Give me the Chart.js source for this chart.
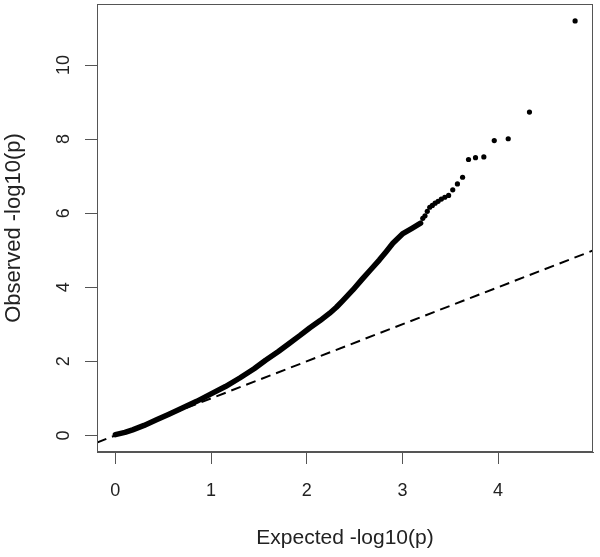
<!DOCTYPE html>
<html lang="en">
<head>
  <meta charset="UTF-8" />
  <title>QQ plot</title>
  <script src="https://cdn.jsdelivr.net/npm/chart.js"></script>
  <style>
    body { margin: 0; background: #fff; }
    #wrap { width: 600px; height: 557px; }
  </style>
</head>
<body>
  <div id="wrap"><canvas id="qq"></canvas></div>

  <script>
    // dense part of the QQ curve (points overlap into a solid band)
    const curveExpected = [0.00, 0.10, 0.18, 0.30, 0.43, 0.56, 0.70, 0.85, 1.00, 1.15, 1.30, 1.45, 1.57, 1.70, 1.82, 1.93, 2.03, 2.14, 2.24, 2.31, 2.37, 2.48, 2.58, 2.67, 2.76, 2.83, 2.90, 3.00, 3.10, 3.19];
    const curveObserved = [0.02, 0.08, 0.15, 0.27, 0.42, 0.57, 0.74, 0.92, 1.12, 1.32, 1.55, 1.80, 2.03, 2.26, 2.49, 2.70, 2.90, 3.10, 3.30, 3.46, 3.62, 3.92, 4.22, 4.48, 4.74, 4.96, 5.19, 5.44, 5.59, 5.73];

    // top hits, separate dots
    const tailExpected = [4.805, 4.328, 4.106, 3.960, 3.851, 3.764, 3.691, 3.629, 3.575, 3.526, 3.483, 3.443, 3.407, 3.373, 3.342, 3.313, 3.286, 3.260, 3.236, 3.213];
    const tailObserved = [11.19, 8.73, 8.01, 7.96, 7.52, 7.50, 7.45, 6.97, 6.79, 6.63, 6.48, 6.43, 6.38, 6.32, 6.27, 6.21, 6.16, 6.05, 5.93, 5.86];

    // y = x reference line, across the whole plot
    const refLine = [-0.192, 4.992];

    const xTicks = [0, 1, 2, 3, 4];
    const yTicks = [0, 2, 4, 6, 8, 10];

    const boxColor = '#555';
    const textColor = '#222';
    const fontFamily = '"Liberation Sans", Arial, sans-serif';

    // draws the top and right sides of the plot box
    const boxPlugin = {
      id: 'box',
      afterDraw(chart) {
        const { ctx, chartArea: a } = chart;
        ctx.save();
        ctx.strokeStyle = boxColor;
        ctx.lineWidth = 1;
        ctx.strokeRect(a.left + 0.5, a.top + 0.5, a.right - a.left - 1, a.bottom - a.top - 1);
        ctx.restore();
      }
    };

    new Chart(document.getElementById('qq'), {
      type: 'scatter',
      data: {
        datasets: [
          {
            data: refLine.map(v => ({ x: v, y: v })),
            showLine: true,
            borderColor: '#000',
            borderWidth: 2,
            borderDash: [10, 6],
            pointRadius: 0
          },
          {
            data: tailExpected.map((x, i) => ({ x: x, y: tailObserved[i] })),
            pointRadius: 2.6,
            backgroundColor: '#000',
            borderWidth: 0
          },
          {
            data: curveExpected.map((x, i) => ({ x: x, y: curveObserved[i] })),
            showLine: true,
            borderColor: '#000',
            borderWidth: 5.5,
            borderCapStyle: 'round',
            borderJoinStyle: 'round',
            pointRadius: 0
          }
        ]
      },
      options: {
        responsive: true,
        maintainAspectRatio: false,
        animation: false,
        layout: { padding: { top: 4, right: 7, left: 0, bottom: 0 } },
        plugins: {
          legend: { display: false },
          tooltip: { enabled: false }
        },
        scales: {
          x: {
            type: 'linear',
            min: -0.192,
            max: 4.992,
            afterFit: s => { s.height = 105; s.paddingLeft = 0; s.paddingRight = 0; },
            afterBuildTicks: s => { s.ticks = xTicks.map(v => ({ value: v })); },
            grid: { drawOnChartArea: false, drawTicks: true, tickLength: 12, color: boxColor },
            border: { color: boxColor },
            ticks: {
              color: textColor,
              padding: 16,
              font: { family: fontFamily, size: 18 }
            },
            title: {
              display: true,
              text: 'Expected -log10(p)',
              color: textColor,
              padding: { top: 0, bottom: 6 },
              font: { family: fontFamily, size: 21 }
            }
          },
          y: {
            type: 'linear',
            min: -0.448,
            max: 11.648,
            afterFit: s => { s.width = 97; s.paddingTop = 0; s.paddingBottom = 0; },
            afterBuildTicks: s => { s.ticks = yTicks.map(v => ({ value: v })); },
            grid: { drawOnChartArea: false, drawTicks: true, tickLength: 12, color: boxColor },
            border: { color: boxColor },
            ticks: {
              color: textColor,
              padding: 11,
              minRotation: 90,
              maxRotation: 90,
              crossAlign: 'center',
              font: { family: fontFamily, size: 18 }
            },
            title: {
              display: true,
              text: 'Observed -log10(p)',
              color: textColor,
              padding: { top: 1, bottom: 0 },
              font: { family: fontFamily, size: 22 }
            }
          }
        }
      },
      plugins: [boxPlugin]
    });
  </script>
</body>
</html>
